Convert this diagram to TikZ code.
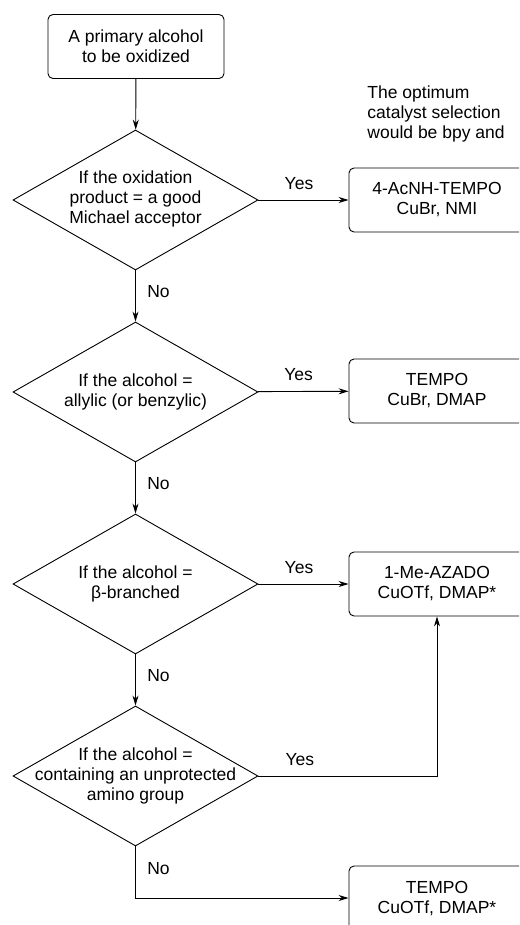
\documentclass[tikz,border=0pt]{standalone}
\usepackage{fontspec}
\setmainfont{Liberation Sans}
\usetikzlibrary{shapes.geometric,arrows.meta}

\newcommand{\qtext}[1]{\makebox[0pt]{\begin{tabular}{@{}c@{}}#1\end{tabular}}}

\begin{document}
\begin{tikzpicture}[x=1pt, y=-1pt, line width=0.9pt, >={Stealth[length=10pt,width=6pt]},
  font=\fontsize{17.5}{20}\selectfont,
  stepbox/.style={draw, rectangle, rounded corners=5pt, minimum width=176pt, minimum height=64pt, align=center},
  decision/.style={draw, diamond, inner sep=0pt, minimum width=245pt, minimum height=140pt}]
\useasboundingbox (0,0) rectangle (519,925);
\clip (0,0) rectangle (519,925);

\node[stepbox] (start) at (136,46.5) {A primary alcohol\\to be oxidized};
\node[decision] (q1) at (135.5,200) {\qtext{If the oxidation\\product = a good\\Michael acceptor}};
\node[decision] (q2) at (135.5,392) {\qtext{If the alcohol =\\allylic (or benzylic)}};
\node[decision] (q3) at (135.5,584) {\qtext{If the alcohol =\\β-branched}};
\node[decision] (q4) at (135.5,776) {\qtext{If the alcohol =\\containing an unprotected\\amino group}};
\node[stepbox] (r1) at (437,200) {4-AcNH-TEMPO\\CuBr, NMI};
\node[stepbox] (r2) at (437,391) {TEMPO\\CuBr, DMAP};
\node[stepbox] (r3) at (437,584) {1-Me-AZADO\\CuOTf, DMAP*};
\node[stepbox] (r4) at (437,898) {TEMPO\\CuOTf, DMAP*};
\node[anchor=west, align=left, inner sep=0pt] (note) at (367,113.5) {The optimum\\catalyst selection\\would be bpy and};

\draw[->] (start) -- (q1);
\draw[->] (q1) -- node[pos=0.45, above=7pt] {Yes} (r1);
\draw[->] (q2) -- node[pos=0.45, above=7pt] {Yes} (r2);
\draw[->] (q3) -- node[pos=0.45, above=7pt] {Yes} (r3);
\draw[->] (q1) -- node[pos=0.42, right=8pt] {No} (q2);
\draw[->] (q2) -- node[pos=0.42, right=8pt] {No} (q3);
\draw[->] (q3) -- node[pos=0.42, right=8pt] {No} (q4);
\draw[->] (q4.east) -| node[pos=0.116, above=7pt] {Yes} (r3.south);
\draw[->] (q4.south) |- node[pos=0.21, right=8pt] {No} (r4.west);
\end{tikzpicture}
\end{document}
